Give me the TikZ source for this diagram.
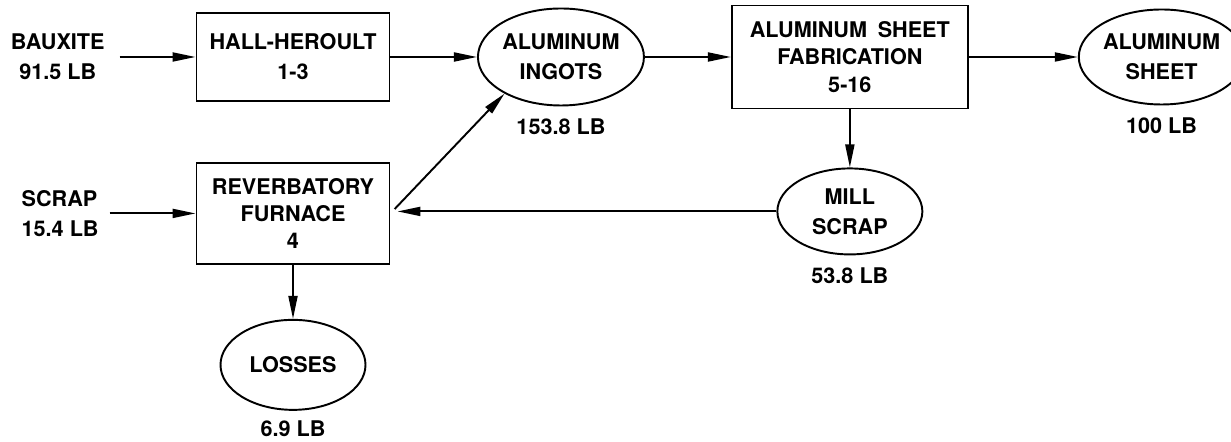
\documentclass[tikz,border=0pt]{standalone}
\usepackage{fontspec}
\setmainfont{TeX Gyre Heros}
\usetikzlibrary{arrows.meta,positioning,shapes.geometric}

\begin{document}
\begin{tikzpicture}[
    font=\fontsize{12.3}{17}\selectfont\bfseries,
    line width=1.1pt,
    unit/.style={draw, align=center, minimum width=3.86cm, inner sep=2pt},
    stock/.style={draw, ellipse, align=center, inner sep=0pt},
    qty/.style={align=center, inner sep=0pt},
    flow/.style={-{Triangle[length=4.6mm,width=1.8mm]}}
]
\useasboundingbox (0,0) rectangle (24.62,8.84);
\node[unit, minimum height=1.76cm] (hall) at (5.86,7.70) {HALL-HEROULT\\1-3};
\node[stock, minimum width=3.32cm, minimum height=1.94cm, right=1.73cm of hall] (ingots) {ALUMINUM\\INGOTS};
\node[unit, minimum width=4.72cm, minimum height=2.06cm, right=1.72cm of ingots, font=\fontsize{12.3}{15.5}\selectfont\bfseries] (fab) {ALUMINUM\enspace SHEET\\FABRICATION\\5-16};
\node[stock, minimum width=3.12cm, minimum height=1.9cm, right=2.18cm of fab] (sheet) {ALUMINUM\\SHEET};
\node[unit, minimum height=2.02cm, below=1.2cm of hall, font=\fontsize{12.3}{15.5}\selectfont\bfseries] (furnace) {REVERBATORY\\FURNACE\\4};
\node[stock, minimum width=2.9cm, minimum height=1.72cm, below=1.16cm of fab] (mill) {MILL\\SCRAP};
\node[stock, minimum width=2.9cm, minimum height=1.8cm, below=1.08cm of furnace] (losses) {LOSSES};

% feeds and weights
\node[qty, left=1.8cm of hall] (bauxite) {BAUXITE\\91.5 LB};
\node[qty, align=left, left=1.92cm of furnace] (scrap) {SCRAP\\15.4 LB};
\node[qty, below=0.22cm of ingots] (ingotslb) {153.8 LB};
\node[qty, below=0.22cm of sheet] (sheetlb) {100 LB};
\node[qty, below=0.22cm of mill] (milllb) {53.8 LB};
\node[qty, below=0.18cm of losses] (losseslb) {6.9 LB};

\draw[flow, shorten <=0.28cm] (bauxite) -- (hall);
\draw[flow, shorten <=0.2cm] (scrap) -- (furnace);
\draw[flow] (hall) -- (ingots);
\draw[flow] (ingots) -- (fab);
\draw[flow] (fab) -- (sheet);
\draw[flow] (fab) -- (mill);
\draw[flow, shorten >=0.14cm] (mill.west) -- (mill.west -| furnace.east);
\draw[flow, shorten <=0.12cm] (furnace.east) -- (ingots.213);
\draw[flow] (furnace) -- (losses);
\end{tikzpicture}
\end{document}
